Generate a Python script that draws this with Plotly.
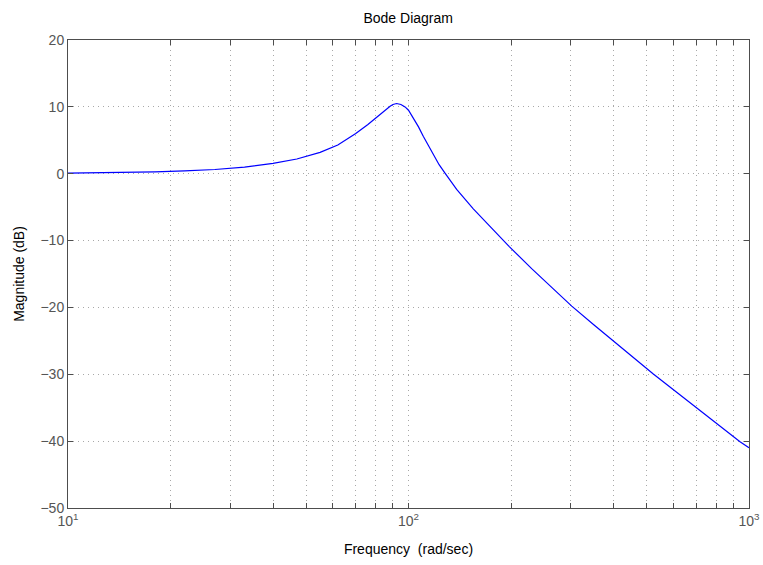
import plotly.graph_objects as go

# Frequency (rad/sec) and magnitude (dB)
freq = [10, 12, 15, 18, 22, 27, 33, 40, 47, 55, 62, 70, 76, 82, 86, 88.3, 90,
        92.3, 95, 97.7, 100, 103.4, 107, 110.5, 114, 118.3, 123, 128, 138.5, 155,
        173.5, 197.7, 230, 265, 301.6, 350, 410, 460, 523.6, 600, 700, 800, 941, 1000]
mag_db = [0.08, 0.12, 0.19, 0.27, 0.41, 0.63, 0.98, 1.55, 2.2, 3.2, 4.3, 6.0, 7.35,
          8.8, 9.7, 10.1, 10.35, 10.5, 10.35, 10.0, 9.5, 8.3, 7.0, 5.6, 4.3, 2.8,
          1.35, 0.1, -2.35, -5.25, -7.9, -10.9, -14.2, -17.1, -19.8, -22.6, -25.5,
          -27.6, -29.95, -32.3, -35.0, -37.3, -40.1, -41.0]

x_major = [10, 100, 1000]
x_major_text = ["10<sup>1</sup>", "10<sup>2</sup>", "10<sup>3</sup>"]
y_ticks = [-50, -40, -30, -20, -10, 0, 10, 20]

x_vals = []
x_text = []
for dec in [10, 100]:
    for m in range(1, 10):
        v = dec * m
        x_vals.append(v)
        x_text.append(x_major_text[x_major.index(v)] if v in x_major else "")
x_vals.append(1000)
x_text.append(x_major_text[2])

fig = go.Figure()
fig.add_trace(go.Scatter(x=freq, y=mag_db, mode="lines",
                         line=dict(color="#0000ff", width=1.2),
                         showlegend=False, hoverinfo="x+y"))

font_family = "Liberation Sans, Arial, sans-serif"
axis_common = dict(
    showline=True, linecolor="#4d4d4d", linewidth=1, mirror="ticks",
    ticks="inside", ticklen=5, tickcolor="#4d4d4d",
    showgrid=True, gridcolor="#a8a8a8", gridwidth=1, griddash="1px,4px",
    zeroline=False, automargin=False,
    tickfont=dict(family=font_family, size=14, color="#555555"),
)

fig.update_xaxes(type="log", range=[1, 3], tickmode="array", tickvals=x_vals,
                 ticktext=x_text,
                 title=dict(text="Frequency  (rad/sec)", standoff=16,
                            font=dict(family=font_family, size=14, color="#000000")),
                 **axis_common)
fig.update_yaxes(range=[-50, 20], tickmode="array", tickvals=y_ticks,
                 title=dict(text="Magnitude (dB)", standoff=12,
                            font=dict(family=font_family, size=14, color="#000000")),
                 **axis_common)

fig.update_layout(
    width=763, height=565,
    margin=dict(l=68, r=14, t=40, b=57),
    paper_bgcolor="white", plot_bgcolor="white",
    title=dict(text="Bode Diagram", x=0.535, xanchor="center", y=0.968, yanchor="middle",
               font=dict(family=font_family, size=14, color="#000000")),
)

fig.write_html("out.html")
